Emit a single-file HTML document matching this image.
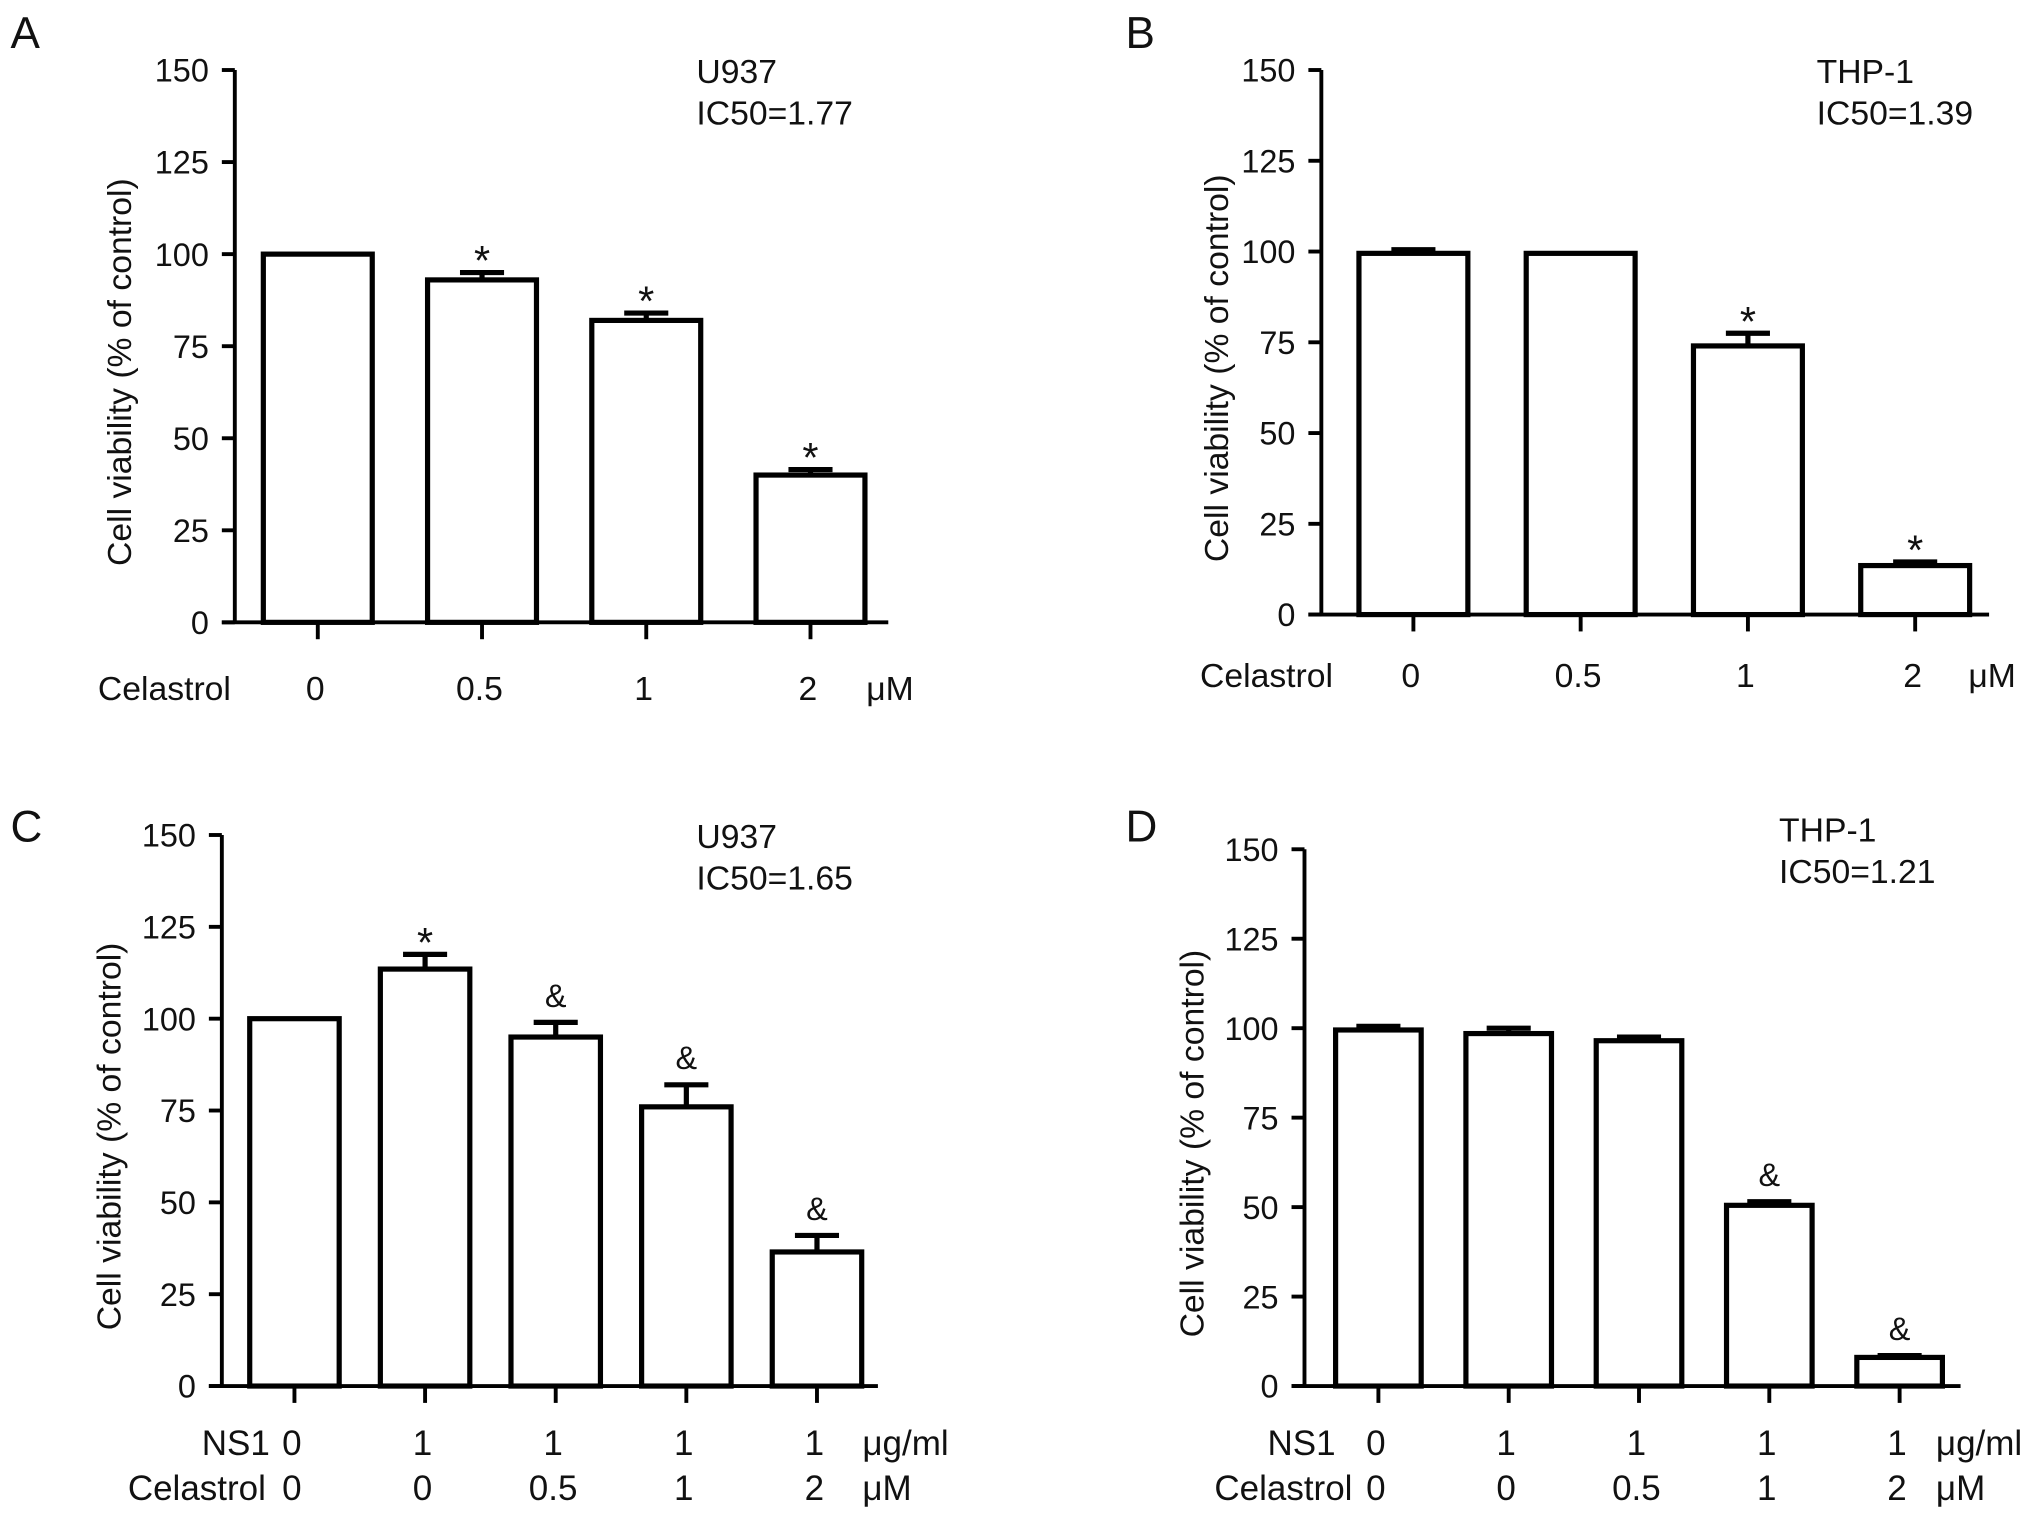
<!DOCTYPE html>
<html><head><meta charset="utf-8"><style>
html,body{margin:0;padding:0;background:#fff;}
svg{display:block;}
text{font-family:"Liberation Sans",Arial,sans-serif;fill:#111;}
</style></head><body>
<svg id="fig" width="2032" height="1517" viewBox="0 0 1567 1170" xmlns="http://www.w3.org/2000/svg"></svg>
<script>
// Panel A
const aValues = [100, 93, 82, 40];
const aErrors = [0, 2, 2, 1.5];
const aMarks = ["", "*", "*", "*"];
const aCelastrol = ["0", "0.5", "1", "2"];
// Panel B
const bValues = [99.5, 99.5, 74, 13.5];
const bErrors = [1, 0, 3.5, 1];
const bMarks = ["", "", "*", "*"];
const bCelastrol = ["0", "0.5", "1", "2"];
// Panel C
const cValues = [100, 113.5, 95, 76, 36.5];
const cErrors = [0, 4, 4, 6, 4.5];
const cMarks = ["", "*", "&", "&", "&"];
const cNS1 = ["0", "1", "1", "1", "1"];
const cCelastrol = ["0", "0", "0.5", "1", "2"];
// Panel D
const dValues = [99.5, 98.5, 96.5, 50.5, 8];
const dErrors = [1, 1.5, 1, 1, 0.5];
const dMarks = ["", "", "", "&", "&"];
const dNS1 = ["0", "1", "1", "1", "1"];
const dCelastrol = ["0", "0", "0.5", "1", "2"];
const yTicks = [0, 25, 50, 75, 100, 125, 150];

const svg = document.getElementById('fig');
const NS = 'http://www.w3.org/2000/svg';
function mk(tag, attrs, parent) {
  const e = document.createElementNS(NS, tag);
  for (const k in attrs) e.setAttribute(k, attrs[k]);
  (parent || svg).appendChild(e);
  return e;
}
function txt(s, x, y, size, anchor, parent) {
  const t = mk('text', {x: x, y: y, 'font-size': size, 'text-anchor': anchor || 'start'}, parent);
  t.textContent = s;
  return t;
}

function panel(cfg) {
  const g = mk('g', {});
  
  
  const yScale = v => cfg.y0 - (v / 150) * (cfg.y0 - cfg.y150);
  const n = cfg.values.length;
  const step = (cfg.xEnd - cfg.firstCenter) / (n - 1);
  const xScale = i => cfg.firstCenter + i * step;
  const L = txt(cfg.letter, cfg.letterX, cfg.letterY, 34, 'start', g);
  
  
  const ya = mk('line', {x1: cfg.axisX, y1: cfg.y150, x2: cfg.axisX, y2: cfg.y0, stroke: '#000', 'stroke-width': 3}, g);
  
  
  yTicks.forEach(v => {
    const y = yScale(v);
    mk('line', {x1: cfg.axisX - 10, y1: y, x2: cfg.axisX, y2: y, stroke: '#000', 'stroke-width': 3}, g);
    const t = txt(String(v), cfg.axisX - 20, y + 9, 25, 'end', g);
    
    
  });
  const xa = mk('line', {x1: cfg.axisX - 10, y1: cfg.y0, x2: cfg.xAxisEnd, y2: cfg.y0, stroke: '#000', 'stroke-width': 3}, g);
  
  
  const yt = txt('Cell viability (% of control)', 0, 0, 26, 'middle', g);
  yt.setAttribute('transform', 'translate(' + (cfg.yTitleX) + ',' + ((cfg.y0 + cfg.y150) / 2 + 20) + ') rotate(-90)');
  
  
  for (let i = 0; i < n; i++) {
    const cx = xScale(i);
    const top = yScale(cfg.values[i]);
    const r = mk('rect', {x: cx - cfg.barW / 2, y: top, width: cfg.barW, height: cfg.y0 - top, fill: '#fff', stroke: '#000', 'stroke-width': 4}, g);
    
    
    if (cfg.errors[i] > 0) {
      const et = yScale(cfg.values[i] + cfg.errors[i]);
      const e1 = mk('line', {x1: cx, y1: top, x2: cx, y2: et, stroke: '#000', 'stroke-width': 4}, g);
      
      
      mk('line', {x1: cx - 17, y1: et, x2: cx + 17, y2: et, stroke: '#000', 'stroke-width': 4}, g);
    }
    if (cfg.marks[i]) {
      const isStar = cfg.marks[i] === '*';
      const errTop = yScale(cfg.values[i] + cfg.errors[i]);
      const m = txt(cfg.marks[i], cx, isStar ? errTop + 2 : errTop - 12, isStar ? 32 : 25, 'middle', g);
      m.setAttribute('fill', '#333');
      
      
    }
    mk('line', {x1: cx, y1: cfg.y0, x2: cx, y2: cfg.y0 + 13, stroke: '#000', 'stroke-width': 3}, g);
  }
  cfg.rows.forEach(row => {
    const lab = txt(row.label, row.labelEnd, row.y, cfg.rowSize, 'end', g);
    
    
    row.vals.forEach((s, i) => {
      const t = txt(s, xScale(i) - 2, row.y, cfg.rowSize, 'middle', g);
      
      
    });
    const u = txt(row.unit, row.unitX, row.y, cfg.rowSize, 'start', g);
    
    
  });
  const c1 = txt(cfg.cell, cfg.noteX, cfg.noteY, 26, 'start', g);
  
  
  const c2 = txt(cfg.ic50, cfg.noteX, cfg.noteY + 32, 26, 'start', g);
  
  
}

panel({name: 'panel-a', letter: 'A', letterX: 8, letterY: 37, axisX: 181, y150: 54, y0: 480, xAxisEnd: 685,
  firstCenter: 245, xEnd: 625, barW: 84, values: aValues, errors: aErrors, marks: aMarks, yTitleX: 101, rowSize: 26,
  rows: [{label: 'Celastrol', labelEnd: 178, y: 540, vals: aCelastrol, unit: 'μM', unitX: 668}],
  cell: 'U937', ic50: 'IC50=1.77', noteX: 537, noteY: 64});
panel({name: 'panel-b', letter: 'B', letterX: 868, letterY: 37, axisX: 1019, y150: 54, y0: 474, xAxisEnd: 1534,
  firstCenter: 1090, xEnd: 1477, barW: 84, values: bValues, errors: bErrors, marks: bMarks, yTitleX: 947, rowSize: 26,
  rows: [{label: 'Celastrol', labelEnd: 1028, y: 530, vals: bCelastrol, unit: 'μM', unitX: 1518}],
  cell: 'THP-1', ic50: 'IC50=1.39', noteX: 1401, noteY: 64});
panel({name: 'panel-c', letter: 'C', letterX: 8, letterY: 649, axisX: 171, y150: 644, y0: 1069, xAxisEnd: 677,
  firstCenter: 227, xEnd: 630, barW: 69, values: cValues, errors: cErrors, marks: cMarks, yTitleX: 93, rowSize: 27,
  rows: [{label: 'NS1', labelEnd: 208, y: 1122, vals: cNS1, unit: 'μg/ml', unitX: 665},
         {label: 'Celastrol', labelEnd: 205, y: 1157, vals: cCelastrol, unit: 'μM', unitX: 665}],
  cell: 'U937', ic50: 'IC50=1.65', noteX: 537, noteY: 654});
panel({name: 'panel-d', letter: 'D', letterX: 868, letterY: 649, axisX: 1006, y150: 655, y0: 1069, xAxisEnd: 1512,
  firstCenter: 1063, xEnd: 1465, barW: 66, values: dValues, errors: dErrors, marks: dMarks, yTitleX: 928, rowSize: 27,
  rows: [{label: 'NS1', labelEnd: 1030, y: 1122, vals: dNS1, unit: 'μg/ml', unitX: 1493},
         {label: 'Celastrol', labelEnd: 1043, y: 1157, vals: dCelastrol, unit: 'μM', unitX: 1493}],
  cell: 'THP-1', ic50: 'IC50=1.21', noteX: 1372, noteY: 649});
</script>
</body></html>
